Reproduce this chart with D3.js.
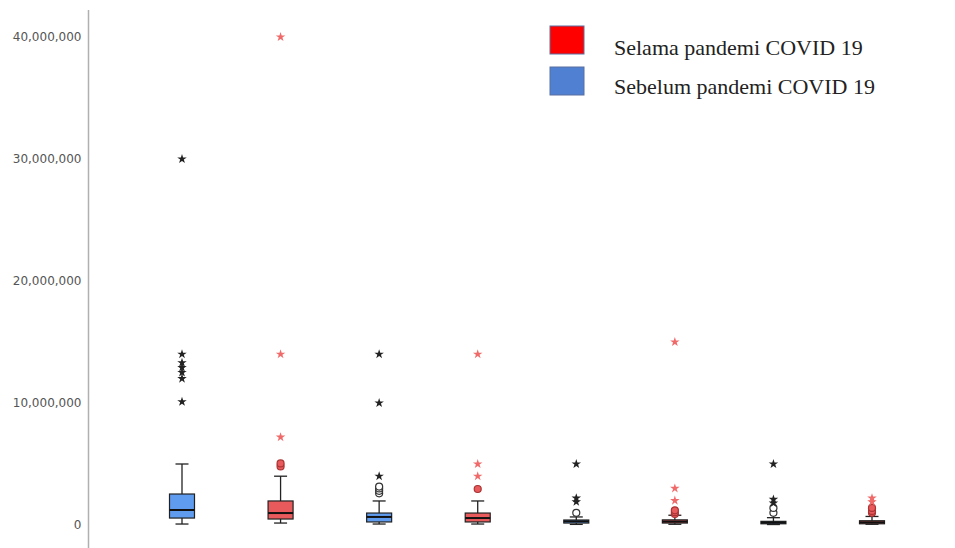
<html>
<head>
<script src="https://d3js.org/d3.v7.min.js"></script>
<style>
  body { margin: 0; background: #fff; }
</style>
</head>
<body>
<div id="chart"></div>
<script>
// groups alternate: before (blue) / during (red) the pandemic
const groups = ["g1", "g2", "g3", "g4", "g5", "g6", "g7", "g8"];
const period = ["before", "during", "before", "during", "before", "during", "before", "during"];
const whiskerLo = [80000, 160000, 80000, 80000, 50000, 60000, 40000, 60000];
const q1 = [570000, 490000, 250000, 250000, 160000, 160000, 100000, 100000];
const median = [1230000, 980000, 660000, 570000, 300000, 280000, 200000, 220000];
const q3 = [2540000, 1970000, 980000, 980000, 410000, 420000, 300000, 350000];
const whiskerHi = [5000000, 4000000, 1970000, 1970000, 660000, 800000, 600000, 700000];
// mild outliers (circles)
const circles = [
  [],
  [4800000, 5050000],
  [2600000, 2800000, 3000000, 3150000],
  [2950000],
  [1000000],
  [900000, 1050000, 1200000],
  [1000000, 1400000],
  [1000000, 1150000, 1400000]
];
// extreme outliers (stars)
const stars = [
  [10100000, 12000000, 12500000, 12900000, 13300000, 14000000, 30000000],
  [7200000, 14000000, 40000000],
  [4000000, 10000000, 14000000],
  [4000000, 5000000, 14000000],
  [1900000, 2200000, 5000000],
  [2000000, 3000000, 15000000],
  [1800000, 2100000, 5000000],
  [1900000, 2200000]
];
const yTicks = [0, 10000000, 20000000, 30000000, 40000000];
const legendLabels = ["Selama pandemi COVID 19", "Sebelum pandemi COVID 19"];

const W = 955, H = 548;
const svg = d3.select("#chart").append("svg")
  .attr("width", W).attr("height", H);

const y = d3.scaleLinear().domain([0, 40000000]).range([525, 37]);
const x = d3.scalePoint().domain(groups).range([182, 872]);

const fillBox = { before: "#5f9cf0", during: "#e85a5c" };
const starCol = { before: "#222", during: "#f06a6a" };

// axis
const axis = d3.axisLeft(y).tickValues(yTicks).tickSize(0).tickPadding(7)
  .tickFormat(d3.format(","));
const gAxis = svg.append("g").attr("transform", "translate(88.5,0)").call(axis);
gAxis.select(".domain").remove();
gAxis.selectAll("text")
  .style("font-family", "DejaVu Sans, sans-serif")
  .style("font-size", "12px")
  .attr("fill", "#555");
svg.append("line").attr("x1", 88.5).attr("x2", 88.5).attr("y1", 10).attr("y2", 548)
  .attr("stroke", "#b0b0b0").attr("stroke-width", 1.5);

const boxW = 25, capW = 13;
groups.forEach((g, i) => {
  const cx = x(g), p = period[i];
  const gg = svg.append("g");
  gg.append("line").attr("x1", cx).attr("x2", cx)
    .attr("y1", y(whiskerLo[i])).attr("y2", y(whiskerHi[i]))
    .attr("stroke", "#222").attr("stroke-width", 1.3);
  [whiskerLo[i], whiskerHi[i]].forEach(v => {
    gg.append("line").attr("x1", cx - capW / 2).attr("x2", cx + capW / 2)
      .attr("y1", y(v)).attr("y2", y(v))
      .attr("stroke", "#222").attr("stroke-width", 1.3);
  });
  gg.append("rect").attr("x", cx - boxW / 2).attr("width", boxW)
    .attr("y", y(q3[i])).attr("height", Math.max(1, y(q1[i]) - y(q3[i])))
    .attr("fill", fillBox[p]).attr("stroke", "#222").attr("stroke-width", 1.2);
  gg.append("line").attr("x1", cx - boxW / 2).attr("x2", cx + boxW / 2)
    .attr("y1", y(median[i])).attr("y2", y(median[i]))
    .attr("stroke", "#111").attr("stroke-width", 2);
  circles[i].forEach(v => {
    gg.append("circle").attr("cx", cx).attr("cy", y(v)).attr("r", 3.5)
      .attr("fill", p === "during" ? "#e85a5c" : "#fff")
      .attr("stroke", p === "during" ? "#a33" : "#333").attr("stroke-width", 1.2);
  });
  stars[i].forEach(v => {
    gg.append("path").attr("d", d3.symbol().type(d3.symbolStar).size(28)())
      .attr("transform", `translate(${cx},${y(v)})`)
      .attr("fill", starCol[p]);
  });
});

// legend
const legendColors = ["#ff0000", "#4f80d2"];
const lg = svg.append("g");
legendLabels.forEach((t, i) => {
  const ly = 26 + i * 41;
  lg.append("rect").attr("x", 550).attr("y", ly).attr("width", 34).attr("height", 28)
    .attr("fill", legendColors[i]).attr("stroke", "#5a6fa0").attr("stroke-width", 1);
  lg.append("text").attr("x", 614).attr("y", 55 + i * 39).text(t)
    .style("font-family", "Liberation Serif, Times New Roman, serif")
    .style("font-size", "22px").attr("fill", "#222");
});
</script>
</body>
</html>
